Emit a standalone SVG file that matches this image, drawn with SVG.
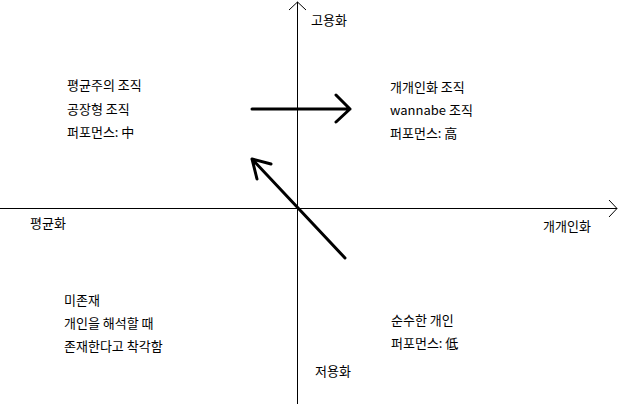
<svg xmlns="http://www.w3.org/2000/svg" width="620" height="404" viewBox="0 0 620 404">
<style>
text{font-family:"Noto Sans CJK KR","Noto Sans",sans-serif;font-size:13px;fill:#000}
.axis{stroke:#000;stroke-width:1;fill:none}
.thick{stroke:#000;stroke-width:3;fill:none;stroke-linecap:round;stroke-linejoin:round}
</style>
<rect width="620" height="404" fill="#fff"/>
<g id="connectors">
<path class="axis" d="M297.5,404 V2 M289,10 L297.5,2 L306,10"/>
<path class="axis" d="M0,208.5 H617 M609,200 L617,208.5 L609,217"/>
<path class="thick" d="M252,109 H350 M336,95 L350,109 L336,122"/>
<path class="thick" d="M345,258 L252,159 M271,164 L252,159 L257,179"/>
</g>
<g id="label-goyong"><text x="311" y="25">고용화</text></g>
<g id="label-jeoyong"><text x="315" y="376">저용화</text></g>
<g id="label-pyeongyun"><text x="30" y="228">평균화</text></g>
<g id="label-gaegaein"><text x="543" y="231">개개인화</text></g>
<g id="q-topleft">
<text x="67" y="90">평균주의 조직</text>
<text x="67" y="114">공장형 조직</text>
<text x="67" y="137">퍼포먼스: 中</text>
</g>
<g id="q-topright">
<text x="390" y="92">개개인화 조직</text>
<text x="390" y="115">wannabe 조직</text>
<text x="390" y="138">퍼포먼스: 高</text>
</g>
<g id="q-bottomleft">
<text x="64" y="305">미존재</text>
<text x="64" y="328">개인을 해석할 때</text>
<text x="64" y="351">존재한다고 착각함</text>
</g>
<g id="q-bottomright">
<text x="391" y="325">순수한 개인</text>
<text x="391" y="348">퍼포먼스: 低</text>
</g>
</svg>
